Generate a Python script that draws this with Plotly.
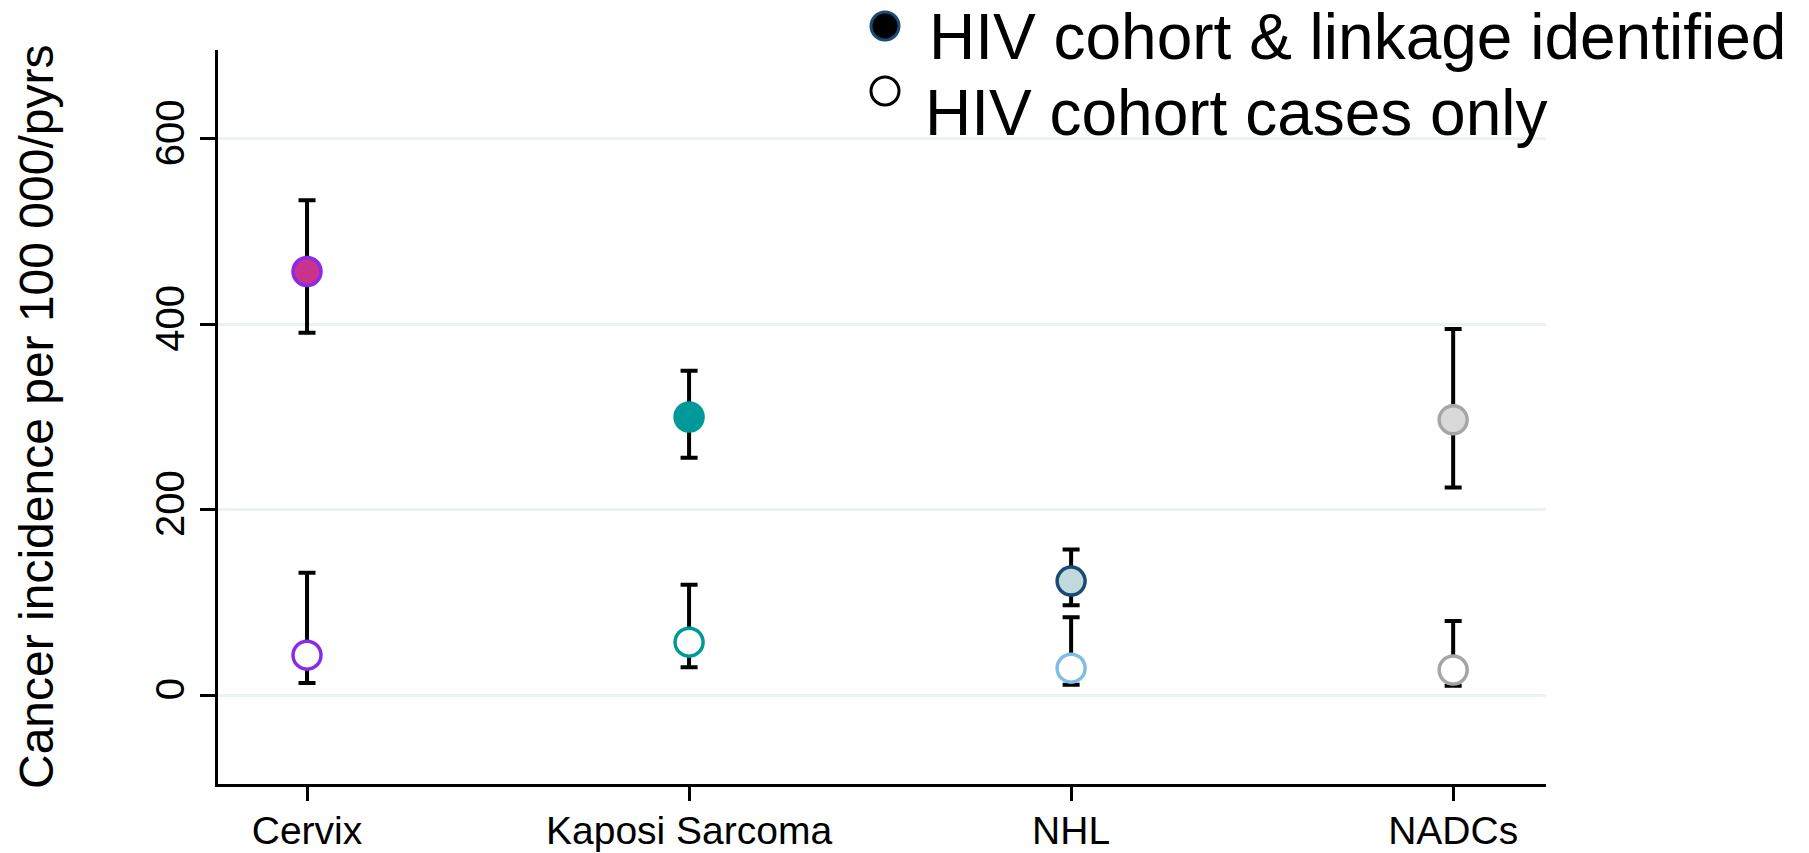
import plotly.graph_objects as go

# ---- data ----
categories = ["Cervix", "Kaposi Sarcoma", "NHL", "NADCs"]
cat_pos = [1, 2, 3, 4]

linked_rate = [457, 300, 123, 297]
linked_lower = [391, 256, 97, 224]
linked_upper = [534, 350, 157, 395]

cohort_rate = [43, 57, 29, 27]
cohort_lower = [13, 30, 11, 10]
cohort_upper = [132, 119, 84, 80]

linked_fill = ["#C9338E", "#009999", "#C1D9DB", "#D9D9D9"]
linked_edge = ["#8A2BE8", "#009999", "#1B4A76", "#A6A6A6"]
cohort_edge = ["#8A2BE8", "#009999", "#80BDE6", "#A6A6A6"]

legend_labels = ["HIV cohort & linkage identified", "HIV cohort cases only"]
y_ticks = [0, 200, 400, 600]

FONT = "Liberation Sans, Arial, Helvetica, sans-serif"

# page body has an 8px margin; figure coordinates = page coordinates - 8
OFF = 8
W, H = 1809 - OFF, 853 - OFF
ML, MT = 218 - OFF, 50 - OFF
PW, PH = 1328, 734
MR = W - ML - PW
MB = H - MT - PH


def px_to_paper_x(px):
    # px given in page coordinates
    return (px - OFF - ML) / PW


def px_to_paper_y(py):
    return 1 - (py - OFF - MT) / PH


fig = go.Figure()

fig.add_trace(go.Scatter(
    x=cat_pos, y=linked_rate, mode="markers",
    marker=dict(size=28, color=linked_fill, line=dict(color=linked_edge, width=3.5)),
    error_y=dict(type="data", symmetric=False,
                 array=[u - v for u, v in zip(linked_upper, linked_rate)],
                 arrayminus=[v - l for v, l in zip(linked_rate, linked_lower)],
                 color="black", thickness=4, width=8.5),
    showlegend=False, cliponaxis=False,
))

fig.add_trace(go.Scatter(
    x=cat_pos, y=cohort_rate, mode="markers",
    marker=dict(size=28, color="white", line=dict(color=cohort_edge, width=3.5)),
    error_y=dict(type="data", symmetric=False,
                 array=[u - v for u, v in zip(cohort_upper, cohort_rate)],
                 arrayminus=[v - l for v, l in zip(cohort_rate, cohort_lower)],
                 color="black", thickness=4, width=8.5),
    showlegend=False, cliponaxis=False,
))

# legend (drawn manually to reproduce layout)
legend_items = [
    dict(label=legend_labels[0], mx=885, my=26, tx=927, ty=37, fill="black", edge="#1B4A76"),
    dict(label=legend_labels[1], mx=885, my=91, tx=923, ty=113, fill="white", edge="black"),
]
shapes = []
annotations = []
for it in legend_items:
    shapes.append(dict(
        type="circle", xref="paper", yref="paper",
        xsizemode="pixel", ysizemode="pixel",
        xanchor=px_to_paper_x(it["mx"]), yanchor=px_to_paper_y(it["my"]),
        x0=-14, x1=14, y0=-14, y1=14,
        fillcolor=it["fill"], line=dict(color=it["edge"], width=3),
    ))
    annotations.append(dict(
        text=it["label"], xref="paper", yref="paper",
        x=px_to_paper_x(it["tx"]), y=px_to_paper_y(it["ty"]),
        xanchor="left", yanchor="middle", showarrow=False,
        font=dict(family=FONT, size=64, color="black"),
    ))

annotations.append(dict(
    text="Cancer incidence per 100 000/pyrs", xref="paper", yref="paper",
    x=0, y=0.5, xshift=36 - 218, xanchor="center", yanchor="middle",
    textangle=-90, showarrow=False,
    font=dict(family=FONT, size=48, color="black"),
))

fig.update_layout(
    width=W, height=H,
    margin=dict(l=ML, r=MR, t=MT, b=MB, autoexpand=False),
    paper_bgcolor="white", plot_bgcolor="white",
    font=dict(family=FONT, color="black"),
    shapes=shapes, annotations=annotations,
    showlegend=False,
)

fig.update_xaxes(
    range=[0.767, 4.243], tickvals=cat_pos, ticktext=categories,
    showgrid=False, zeroline=False,
    showline=True, linecolor="black", linewidth=3,
    ticks="outside", ticklen=14, tickwidth=3, tickcolor="black",
    ticklabelstandoff=-4,
    tickfont=dict(family=FONT, size=39, color="black"),
)

fig.update_yaxes(
    range=[-96, 696], tickvals=y_ticks, ticktext=[str(v) for v in y_ticks],
    showgrid=True, gridcolor="#EAF2F3", gridwidth=3, zeroline=False,
    showline=True, linecolor="black", linewidth=3,
    ticks="outside", ticklen=15, tickwidth=3, tickcolor="black",
    tickangle=-90,
    tickfont=dict(family=FONT, size=40, color="black"),
)

fig.write_html("out.html")
